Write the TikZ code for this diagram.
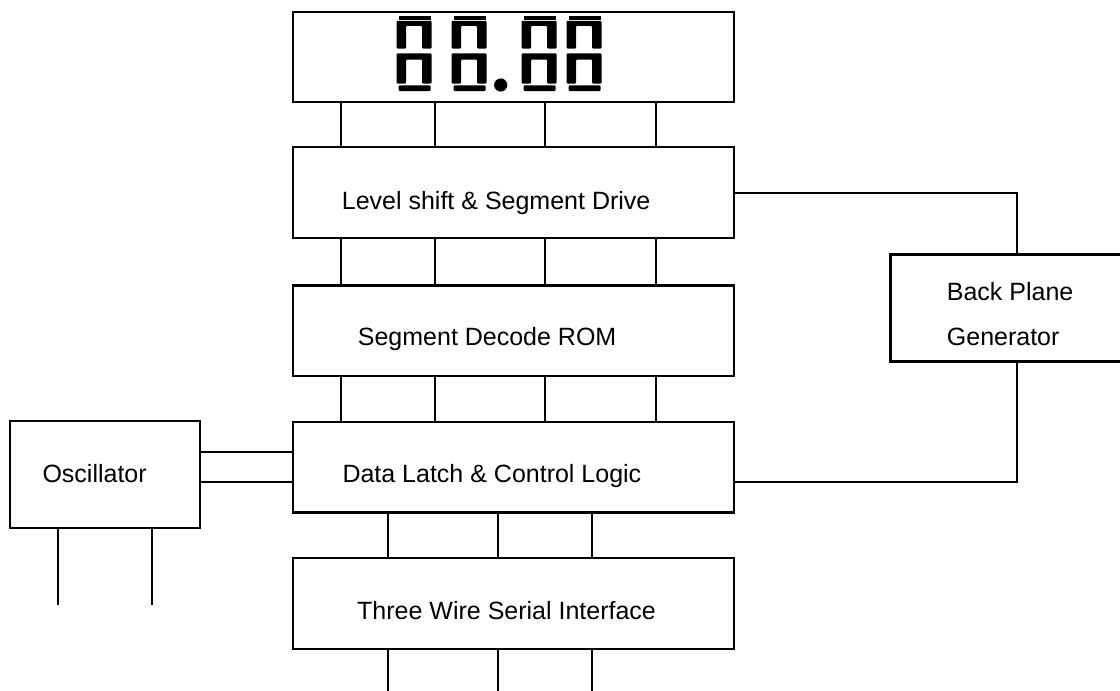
\documentclass[tikz,border=0pt]{standalone}
\usepackage{fontspec}
\setmainfont{Liberation Sans}
\begin{document}
\begin{tikzpicture}[x=1pt,y=-1pt,
  wire/.style={line width=2.3pt},
  blk/.style={draw,line width=2.5pt,rectangle,inner sep=0pt,minimum width=441pt},
  lbl/.style={anchor=base west,inner sep=0pt,font=\fontsize{25}{30}\selectfont},
  pics/digit/.style={code={
    \fill (2,16) rectangle (34,19.8);
    \fill[rounded corners=1pt] (0,48.5) -- (0,20.8) -- (35,20.8) -- (35,48.5) -- (25.5,48.5) -- (25.5,25.8) -- (9.5,25.8) -- (9.5,48.5) -- cycle;
    \fill[rounded corners=1pt] (0,83.5) -- (0,53.3) -- (35,53.3) -- (35,83.5) -- (25.5,83.5) -- (25.5,59.5) -- (9.5,59.5) -- (9.5,83.5) -- cycle;
    \fill[rounded corners=1pt] (2,85.3) rectangle (34,91);
  }}]
\useasboundingbox (0,0) rectangle (1120,691);

% blocks
\node[blk,minimum height=90pt] (disp) at (513.5,57) {};
\node[blk,minimum height=91pt] (ls) at (513.5,192.5) {};
\node[blk,minimum height=90.5pt] (sd) at (513.5,330.7) {};
\node[blk,minimum height=90.7pt] (dl) at (513.5,467.3) {};
\node[blk,minimum height=91pt] (tw) at (513.5,603.5) {};
\node[blk,minimum width=190pt,minimum height=107pt] (osc) at (105,474.5) {};
\node[blk,minimum width=234.3pt,minimum height=107.4pt] (bp) at (1007.85,308) {};

% labels
\node[lbl] (lsT) at (341.7,209) {Level shift \& Segment Drive};
\node[lbl] (sdT) at (357.7,345) {Segment Decode ROM};
\node[lbl] (dlT) at (342.3,482.3) {Data Latch \& Control Logic};
\node[lbl] (twT) at (357,619.3) {Three Wire Serial Interface};
\node[lbl] (oscT) at (42.3,482.7) {Oscillator};
\node[lbl] (bpT1) at (946.7,300.7) {Back Plane};
\node[lbl] (bpT2) at (946.7,345.5) {Generator};

% seven segment display
\pic at (396.5,0) {digit};
\pic at (451.5,0) {digit};
\pic at (521.5,0) {digit};
\pic at (566.5,0) {digit};
\fill (500.7,85) circle (6.6pt);

% buses
\foreach \x in {341,435,545,655.7} {
  \draw[wire] (disp.south -| \x,0) -- (ls.north -| \x,0);
  \draw[wire] (ls.south -| \x,0) -- (sd.north -| \x,0);
  \draw[wire] (sd.south -| \x,0) -- (dl.north -| \x,0);
}
\foreach \x [count=\i] in {387.7,498,592} {
  \draw[wire] (dl.south -| \x,0) -- (tw.north -| \x,0);
  \coordinate (twout\i) at (\x,696);
  \draw[wire] (tw.south -| \x,0) -- (twout\i);
}
\draw[wire] (osc.east |- 0,452.3) -- (dl.west |- 0,452.3);
\draw[wire] (osc.east |- 0,481.7) -- (dl.west |- 0,481.7);
\coordinate (oscA) at (58.3,605);
\coordinate (oscB) at (152,605);
\draw[wire] (osc.south -| oscA) -- (oscA);
\draw[wire] (osc.south -| oscB) -- (oscB);

\draw[wire] (ls.east |- 0,193.3) -| (bp.north -| 1016.7,0);
\draw[wire] (bp.south -| 1016.7,0) |- (dl.east |- 0,482.3);
\end{tikzpicture}
\end{document}
